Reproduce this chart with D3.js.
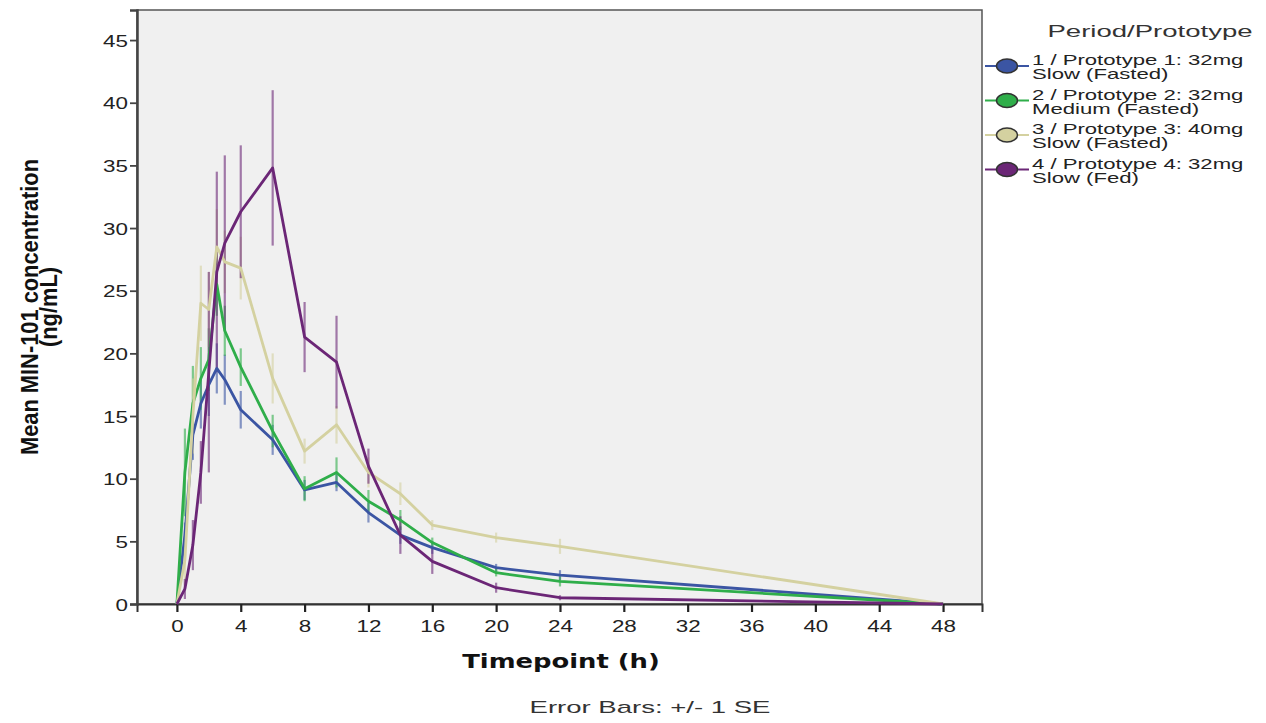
<!DOCTYPE html>
<html><head><meta charset="utf-8">
<script src="https://cdn.jsdelivr.net/npm/d3@7"></script>
<style>html,body{margin:0;padding:0;background:#fff;}</style>
</head><body>
<svg id="chart" width="1266" height="723"></svg>
<script>
const timepoints = [0, 0.5, 1, 1.5, 2, 2.5, 3, 4, 6, 8, 10, 12, 14, 16, 20, 24, 48];
const seriesNames = ["1 / Prototype 1: 32mg|Slow (Fasted)", "2 / Prototype 2: 32mg|Medium (Fasted)", "3 / Prototype 3: 40mg|Slow (Fasted)", "4 / Prototype 4: 32mg|Slow (Fed)"];
const p1Mean = [0, 5.5, 13.5, 16, 17.5, 18.8, 17.9, 15.5, 13.1, 9.1, 9.7, 7.3, 5.5, 4.5, 2.9, 2.3, 0];
const p1SE   = [0, 1, 2, 2, 2.5, 2, 2, 1.5, 1.2, 0.8, 0.7, 0.8, 0.7, 0.5, 0.3, 0.4, 0];
const p2Mean = [0, 10.5, 16, 18, 19.5, 25.5, 21.8, 18.9, 13.8, 9.2, 10.5, 8.2, 6.7, 4.9, 2.5, 1.8, 0];
const p2SE   = [0, 3.5, 3, 2.5, 2.5, 2.5, 2, 1.5, 1.3, 1, 1.2, 0.9, 0.8, 0.4, 0.3, 0.4, 0];
const p3Mean = [0, 3.5, 15, 24, 23.5, 28.5, 27.3, 26.8, 18, 12.2, 14.3, 10.5, 8.8, 6.3, 5.3, 4.6, 0];
const p3SE   = [0, 2, 3, 3, 3, 3, 2.5, 2.5, 2, 1, 1.5, 1.2, 0.9, 0.4, 0.4, 0.6, 0];
const p4Mean = [0, 1.2, 4.7, 10.5, 18.5, 26.5, 28.8, 31.3, 34.8, 21.3, 19.3, 11, 5.5, 3.4, 1.3, 0.5, 0];
const p4SE   = [0, 0.8, 2, 2.5, 8, 8, 7, 5.3, 6.2, 2.8, 3.7, 1.4, 1.5, 1, 0.4, 0.2, 0];
const xTicks = [0, 4, 8, 12, 16, 20, 24, 28, 32, 36, 40, 44, 48];
const yTicks = [0, 5, 10, 15, 20, 25, 30, 35, 40, 45];
const colors = ["#3b55a3", "#2fae4a", "#d4d1a0", "#6b2676"];

const series = [p1Mean, p2Mean, p3Mean, p4Mean].map((m, i) => ({
  name: seriesNames[i], color: colors[i],
  pts: timepoints.map((t, j) => ({t, se: [p1SE, p2SE, p3SE, p4SE][i][j], mean: m[j]}))
}));

const svg = d3.select("#chart");
const L = 137, R = 982, T = 10, B = 604;
const x = d3.scaleLinear().domain([-2.5, 50.44]).range([L, R]);
const y = d3.scaleLinear().domain([0, 47.4]).range([B, T]);
const font = "'Liberation Sans', Arial, sans-serif";
const fontWide = "'DejaVu Sans', Verdana, sans-serif";

function stext(g, tx, ty, str, opts) {
  return g.append("text")
    .attr("transform", `translate(${tx},${ty}) scale(${opts.sx},1)`)
    .attr("text-anchor", opts.anchor || "start")
    .attr("font-family", opts.family || font)
    .attr("font-size", opts.size)
    .attr("font-weight", opts.weight || "normal")
    .attr("fill", opts.fill || "#222")
    .text(str);
}

// plot background
svg.append("rect").attr("x", L).attr("y", T).attr("width", R - L).attr("height", B - T)
  .attr("fill", "#f0f0f0").attr("stroke", "#555").attr("stroke-width", 1.5);

// axes
const gx = svg.append("g").attr("transform", `translate(0,${B})`)
  .call(d3.axisBottom(x).tickValues(xTicks).tickSize(8).tickFormat(d3.format("d")));
gx.select(".domain").attr("stroke", "#333").attr("stroke-width", 2);
gx.selectAll(".tick line").attr("stroke", "#222").attr("stroke-width", 2.2);
gx.selectAll(".tick text").remove();
gx.selectAll(".tick").each(function(d) {
  stext(d3.select(this), 0, 28, d, {size: 16, anchor: "middle", sx: 1.4});
});

const gy = svg.append("g").attr("transform", `translate(${L},0)`)
  .call(d3.axisLeft(y).tickValues(yTicks).tickSize(7).tickFormat(d3.format("d")));
gy.select(".domain").attr("stroke", "#444").attr("stroke-width", 2.5);
gy.selectAll(".tick line").attr("stroke", "#444").attr("stroke-width", 1.8);
gy.selectAll(".tick text").remove();
gy.selectAll(".tick").each(function(d) {
  stext(d3.select(this), -9, 6, d, {size: 16, anchor: "end", sx: 1.4});
});

// axis titles
const yt = svg.append("g").attr("transform", "translate(38,307) rotate(-90)");
yt.append("text").attr("text-anchor", "middle").attr("font-family", font)
  .attr("font-size", 19).attr("font-weight", "bold").attr("fill", "#111")
  .attr("transform", "scale(1.15,1.3)").text("Mean MIN-101 concentration");
yt.append("text").attr("text-anchor", "middle").attr("font-family", font)
  .attr("font-size", 19).attr("font-weight", "bold").attr("fill", "#111")
  .attr("transform", "translate(0,19) scale(1.15,1.3)").text("(ng/mL)");

stext(svg, 561, 668, "Timepoint (h)", {size: 20, weight: "bold", anchor: "middle", fill: "#111", sx: 1.29, family: fontWide});
stext(svg, 650, 713, "Error Bars: +/- 1 SE", {size: 17, anchor: "middle", fill: "#333", sx: 1.62});

// series
const line = d3.line().x(d => x(d.t)).y(d => y(d.mean));
const plot = svg.append("g");
series.forEach(s => {
  plot.append("g").selectAll("line").data(s.pts.filter(d => d.se > 0)).join("line")
    .attr("x1", d => x(d.t)).attr("x2", d => x(d.t))
    .attr("y1", d => y(d.mean - d.se)).attr("y2", d => y(d.mean + d.se))
    .attr("stroke", s.color).attr("stroke-width", 2.2).attr("stroke-opacity", 0.6);
});
series.forEach(s => {
  plot.append("path").datum(s.pts).attr("d", line)
    .attr("fill", "none").attr("stroke", s.color).attr("stroke-width", 2.8)
    .attr("stroke-linejoin", "round");
});

// legend
const lg = svg.append("g");
stext(lg, 1150, 37, "Period/Prototype", {size: 17, anchor: "middle", fill: "#333", sx: 1.62});
series.forEach((s, i) => {
  const cy = 66 + i * 34.5;
  lg.append("line").attr("x1", 985).attr("x2", 1029).attr("y1", cy).attr("y2", cy)
    .attr("stroke", s.color).attr("stroke-width", 2);
  lg.append("ellipse").attr("cx", 1007).attr("cy", cy).attr("rx", 10.5).attr("ry", 7)
    .attr("fill", s.color).attr("stroke", "#333").attr("stroke-width", 1.5);
  const parts = s.name.split("|");
  stext(lg, 1032, cy - 1, parts[0], {size: 14, fill: "#222", sx: 1.58});
  stext(lg, 1032, cy + 13, parts[1], {size: 14, fill: "#222", sx: 1.58});
});
</script>
</body></html>
